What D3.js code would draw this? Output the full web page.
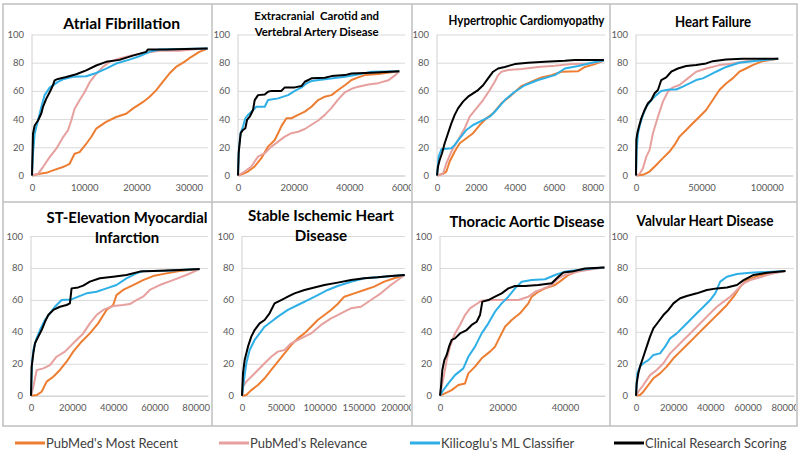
<!DOCTYPE html>
<html><head><meta charset="utf-8">
<script src="https://cdn.jsdelivr.net/npm/d3@7/dist/d3.min.js"></script>
<style>body{margin:0;background:#fff}svg{display:block}</style>
</head><body>
<svg id="c" width="800" height="456"></svg>
<script>
// ---------- DATA ----------
const seriesNames = ["PubMed's Most Recent","PubMed's Relevance","Kilicoglu's ML Classifier","Clinical Research Scoring"];
const seriesColors = ["#ED7D31","#E6A09E","#2EAFE6","#000000"];
const yTicks = [0,20,40,60,80,100];

const titles = [
  ["Atrial Fibrillation"],
  ["Extracranial  Carotid and","Vertebral Artery Disease"],
  ["Hypertrophic Cardiomyopathy"],
  ["Heart Failure"],
  ["ST-Elevation Myocardial","Infarction"],
  ["Stable Ischemic Heart","Disease"],
  ["Thoracic Aortic Disease"],
  ["Valvular Heart Disease"]
];
const xMaxes = [33700,60000,8640,120000,86000,210000,52800,85000];
const xTicks1 = [0,10000,20000,30000];
const xTicks2 = [0,20000,40000,60000];
const xTicks3 = [0,2000,4000,6000,8000];
const xTicks4 = [0,50000,100000];
const xTicks5 = [0,20000,40000,60000,80000];
const xTicks6 = [0,50000,100000,150000,200000];
const xTicks7 = [0,20000,40000];
const xTicks8 = [0,20000,40000,60000,80000];

// Atrial Fibrillation
const af_recent = [[0,0],[1470,1.2],[2740,1.9],[4010,3.6],[5920,6],[7200,8.3],[8150,15.4],[9110,16.6],[10380,22.5],[11340,27.3],[12290,33.2],[14200,38],[16120,41.5],[18030,43.8],[19300,47.4],[21210,52],[22480,55.7],[23760,60.4],[25030,66.4],[26310,72.3],[27580,77],[29170,80.6],[30450,84],[32040,87.7],[33630,90]];
const af_relevance = [[0,0],[1150,1.2],[2100,6],[3380,13],[4650,19],[5920,27],[6880,32],[7520,39],[8150,47.4],[9110,53.3],[10060,59],[11020,66],[12290,72],[13570,77],[14840,80.6],[16750,83],[19300,85.3],[21850,87],[24400,88.4],[28220,88.4],[30760,89.3],[33630,90]];
const af_ml = [[0,0],[190,15.4],[510,29.6],[1150,39],[1780,48.6],[2420,57],[3380,62.3],[4970,66.4],[5920,68.2],[7830,70],[10380,70.4],[12290,72.7],[14200,75.8],[16120,79.4],[18660,82.2],[20570,84.6],[22480,87.7],[24400,89.3],[28220,89.8],[33630,90]];
const af_crs = [[0,0],[190,29.6],[510,35.5],[1150,39],[1780,44],[2100,48.6],[2740,54.5],[3380,59],[4010,64],[4330,67.5],[4970,68.5],[6560,69.8],[8470,71.8],[10380,74.6],[12290,78],[14200,80.6],[16750,82],[19300,85],[21850,87.7],[22170,89.3],[25670,89.3],[29490,89.8],[33630,90]];

// Extracranial Carotid and Vertebral Artery Disease
const ec_recent = [[0,0],[1800,1.2],[3600,2.8],[6000,6.4],[8400,12.3],[10800,20.5],[13200,25.2],[14400,30],[15600,35],[17400,40.6],[19200,40.6],[21600,43],[24000,45.3],[26400,48.8],[28800,53.5],[31200,55.9],[33600,57],[36000,60.6],[38400,64],[40800,67.7],[43200,69.6],[45600,71.2],[50400,72],[57960,74]];
const ec_relevance = [[0,0],[2400,2.8],[4800,6.4],[7200,13.4],[9600,15.8],[12000,20.5],[14400,24],[16800,27.6],[19200,30],[21600,31],[24000,33],[26400,36],[28800,39],[31200,43],[33600,48],[36000,54],[38400,59],[40800,61.5],[43200,63],[46800,64.5],[50400,65.5],[54000,67.5],[56400,71],[57960,74]];
const ec_ml = [[0,0],[360,20.5],[960,30],[1800,34.7],[2640,40.6],[3600,43],[4800,45.3],[6600,48.8],[9600,48.8],[10800,53.5],[14400,54.7],[18000,57],[20400,60],[22800,62.5],[24600,65.3],[26400,67],[31200,68.2],[38400,70],[42000,71.2],[48000,73.6],[57960,74]];
const ec_crs = [[0,0],[240,15.8],[600,22.9],[960,30],[1800,32.3],[2640,33.5],[3240,39.4],[4200,41.7],[5400,46.5],[6000,53.5],[7200,57],[9600,57.5],[10800,59.4],[12000,60],[15600,60],[16800,62.5],[20400,62.5],[22800,63.4],[24000,66.5],[26400,68.9],[31200,69.3],[33600,70.5],[38400,71.2],[40800,72.4],[48000,72.9],[57960,74]];

// Hypertrophic Cardiomyopathy
const hc_recent = [[0,0],[309,1.2],[481,2.8],[652,9.9],[910,17],[1168,22.9],[1511,26.4],[1854,30],[2198,35.8],[2541,40.6],[2885,44.1],[3314,51.2],[3829,57],[4344,63.4],[4859,66.5],[5374,69.6],[5889,71.2],[6404,73.6],[7263,74],[7606,77],[8121,79],[8585,81.5]];
const hc_relevance = [[0,0],[309,1.2],[481,8.7],[738,17],[1082,25.2],[1425,33.5],[1683,41.7],[2026,47.6],[2370,53.5],[2713,60.6],[2970,66.5],[3142,71.2],[3314,73.6],[3657,74.8],[4344,75.5],[5203,77],[6061,77.8],[6920,79],[7950,79.5],[8585,81.5]];
const hc_ml = [[0,0],[86,13.4],[223,18.6],[738,19.3],[910,21.7],[1168,26.4],[1511,32.3],[1854,35.8],[2284,38.7],[2713,41.7],[3056,46.5],[3486,53.5],[4001,59.4],[4516,64],[5203,67.7],[6061,71.2],[6576,75.9],[7263,77.6],[7950,80],[8585,81.5]];
const hc_crs = [[0,0],[52,6.4],[137,11],[258,15.8],[395,22.9],[567,30],[738,37],[910,43],[1082,47.6],[1339,52.4],[1597,55.9],[1854,58.3],[2112,60.6],[2370,64],[2627,68.9],[2885,73.6],[3142,75.9],[3486,77],[4001,79],[4687,80],[5546,80.7],[6576,81.4],[7091,82],[8585,82]];

// Heart Failure
const hf_recent = [[0,0],[5334,0.5],[10414,2.8],[15494,7.5],[20574,12.3],[25654,17],[29464,21.7],[33274,27.6],[38354,32.3],[43434,37],[48514,41.7],[53594,46.5],[58674,53.5],[63754,60.6],[68834,65.3],[73914,68.9],[78994,73.6],[84074,75.9],[89154,78.3],[96774,81.1],[108712,82.8]];
const hf_relevance = [[0,0],[2794,1.2],[5334,5.2],[7874,13.4],[10414,18.2],[12954,30],[16764,41.7],[20574,52.4],[24384,59.4],[28194,62.5],[33274,64.2],[39624,68.9],[45974,73.6],[53594,75.9],[63754,78.3],[73914,79.5],[84074,81.1],[94234,81.8],[108712,82.8]];
const hf_ml = [[0,0],[508,18.2],[1524,30],[3302,37],[5334,42.9],[7874,48.8],[11684,53.5],[15494,57],[19304,59.9],[25654,61],[30734,61],[35814,63],[40894,65.3],[45974,67.7],[51054,68.9],[56134,71.2],[61214,73.6],[68834,77],[78994,80],[89154,81.1],[108712,82.8]];
const hf_crs = [[0,0],[254,25.2],[1016,30],[2286,34.7],[4064,40.6],[6604,46.5],[9144,51.2],[11684,53.5],[14224,58.3],[16764,60.6],[19304,67.7],[23114,69.6],[26924,73.6],[32004,75.9],[38354,77.6],[45974,78.3],[53594,79.5],[58674,81.1],[68834,82.3],[81534,82.8],[108712,82.8]];

// ST-Elevation Myocardial Infarction
const st_recent = [[0,0],[2747,0.4],[5171,2.5],[7595,8.8],[10827,11.9],[14059,16.1],[17291,21.3],[20523,27.6],[24563,33.8],[28603,39],[32643,45.3],[36683,53.7],[39915,56.8],[41531,63],[44763,66.2],[49611,69.3],[54459,72.4],[59307,74.9],[65771,76.6],[72235,78.1],[81931,79.3]];
const st_relevance = [[0,0],[1131,5.6],[2747,16],[5979,17.1],[9211,19.2],[12443,24.4],[16483,27.6],[20523,32.8],[25371,39],[28603,45.3],[31835,50.5],[35067,53.7],[39915,56.2],[44763,56.8],[47995,57.4],[51227,59.9],[54459,62],[57691,66.2],[62539,69.3],[69003,72.4],[75467,75.6],[81931,79.3]];
const st_ml = [[0,0],[485,20.3],[1131,28.6],[2424,34.9],[4363,41.1],[6787,47.4],[9211,51.6],[11635,55.7],[14867,59.9],[19715,60.3],[22947,62],[26987,64.1],[31835,65.1],[36683,67.2],[41531,69.3],[46379,73.5],[51227,76.6],[54459,78.1],[65771,78.3],[81931,79.3]];
const st_crs = [[0,0],[323,18.2],[1131,26.5],[1939,32.8],[3555,37],[5171,41.1],[6787,46.3],[8403,50.5],[10827,53.7],[14059,55.7],[17291,56.8],[18907,57.8],[19715,67.2],[22947,67.8],[25371,68.9],[28603,71.4],[33451,73.5],[39915,74.5],[46379,75.6],[52843,77.7],[62539,78.3],[72235,78.7],[81931,79.3]];

// Stable Ischemic Heart Disease
const si_recent = [[0,0],[5564,0.4],[11984,3.5],[20544,6.7],[29104,10.9],[37664,16.1],[46224,21.3],[54784,26.5],[63344,31.7],[71904,35.9],[80464,39],[89024,43.2],[97584,47.4],[106144,50.5],[114704,53.7],[123264,57.4],[131824,62],[144664,64.1],[157504,66.2],[170344,68.3],[183184,71.4],[196024,73.5],[209720,75.6]];
const si_relevance = [[0,0],[1284,5.6],[5564,8.8],[11984,11.9],[20544,16.1],[29104,20.3],[37664,24.4],[46224,27.6],[54784,28.6],[63344,32.8],[76184,35.9],[89024,39],[101864,44.3],[114704,48.4],[123264,50.5],[131824,52.6],[140384,54.7],[153224,55.7],[166064,59.9],[178904,64.1],[191744,69.3],[209720,75.6]];
const si_ml = [[0,0],[2568,9.8],[5564,20.3],[9844,28.6],[16264,34.9],[22684,39],[29104,43.2],[37664,46.3],[46224,49.5],[59064,53.7],[71904,56.8],[84744,59.9],[97584,63],[110424,66.2],[123264,68.7],[140384,71.4],[157504,73.5],[174624,74.1],[209720,75.6]];
const si_crs = [[0,0],[1284,14],[3424,22.3],[7704,30.7],[11984,37],[16264,41.1],[22684,45.3],[29104,47.4],[35524,51.6],[41944,57.8],[50504,59.9],[59064,62],[67624,64.1],[80464,66.2],[93304,67.8],[106144,69.3],[123264,70.8],[140384,72.4],[157504,73.5],[174624,74.1],[191744,74.9],[209720,75.6]];

// Thoracic Aortic Disease
const ta_recent = [[0,0],[1601,1.5],[3735,3.5],[5869,6.7],[8003,7.7],[9070,14],[11204,18.2],[13338,23.4],[16005,27.6],[17606,30.7],[19206,37],[20807,43.2],[22941,47.4],[25608,51.6],[28276,57.8],[29343,62],[31477,65.1],[33611,67.2],[36812,69.3],[38946,72.4],[41080,75.6],[44281,78.3],[48549,79.7],[52604,80.2]];
const ta_relevance = [[0,0],[534,5.6],[1387,14],[2134,22.3],[3201,30.7],[4802,39],[6402,44.3],[8003,50.5],[9603,54.7],[11204,56.8],[13338,59.5],[16539,59.9],[20807,59.9],[25075,59.9],[28276,62],[30410,65.1],[32544,66.6],[35745,69.3],[37879,73.5],[40013,75.6],[44281,77.7],[48549,79.1],[52604,80.2]];
const ta_ml = [[0,0],[1067,3.5],[2668,7.7],[4802,12.9],[7469,17.1],[9070,24.4],[11204,30.7],[13338,39],[15472,45.3],[17606,52.6],[19740,57.8],[21874,62],[24008,67.2],[26142,71.4],[29343,72.4],[33611,72.9],[36812,75.6],[40013,77.7],[44281,78.7],[48549,79.7],[52604,80.2]];
const ta_crs = [[0,0],[320,5.6],[747,16.1],[1387,22.3],[2134,25.5],[2881,30.7],[3735,34.9],[4802,35.9],[6402,39],[8536,41.1],[10137,44.3],[11737,46.3],[12804,50.5],[13551,58.9],[15472,59.9],[17606,62],[19740,64.1],[21874,67.2],[24008,68.7],[27209,68.7],[31477,69.3],[35745,70.4],[37879,74.5],[39479,77.2],[42147,77.7],[46415,79.7],[52604,80.2]];

// Valvular Heart Disease
const vh_recent = [[0,0],[2158,0.4],[3956,2.5],[6653,6.7],[9350,10.9],[12946,14],[16542,18.2],[20138,23.4],[23734,27.6],[27330,31.7],[30926,35.9],[34522,40.1],[38118,44.3],[41714,48.4],[45310,52.6],[48906,56.8],[52502,62],[56098,68.3],[59694,72.4],[65088,74.9],[72280,76.6],[80371,78.1]];
const vh_relevance = [[0,0],[1259,2.5],[3956,6.7],[7552,12.9],[11148,16.1],[14744,20.3],[18340,26.5],[21936,30.7],[25532,34.9],[29128,39],[32724,43.2],[36320,47.4],[39916,51.6],[43512,55.7],[47108,58.9],[50704,62],[54300,66.2],[57896,70.4],[61492,72.4],[66886,74.1],[72280,76.2],[80371,78.1]];
const vh_ml = [[0,0],[719,14],[2158,18.2],[3956,20.3],[6653,22.3],[9350,25.5],[12946,26.5],[15643,30.7],[18340,35.9],[21936,39],[25532,43.2],[29128,47.4],[32724,51.6],[36320,55.7],[39916,59.9],[42613,64.1],[45310,71.4],[48906,74.5],[54300,76.2],[61492,77],[80371,78.1]];
const vh_crs = [[0,0],[360,7.7],[1259,14],[2158,18.2],[3956,24.4],[5754,30.7],[7552,37],[9350,42.2],[12047,46.3],[14744,50.5],[17441,53.7],[20138,57.8],[23734,61],[27330,62.4],[32724,64.1],[38118,66.2],[43512,67.2],[48906,67.8],[54300,69.3],[57896,72.4],[63290,75.6],[70482,77],[80371,78.1]];

// ---------- LAYOUT ----------
const FONT = "Lato, 'Open Sans', sans-serif";
const cells = [[3,4,212,202],[212,4,412,202],[412,4,610,202],[610,4,797,202],
               [3,202,212,426],[212,202,412,426],[412,202,610,426],[610,202,797,426]];
// plot areas [left, right, top(100), bottom(0)]
const plotBoxes = [
  [32,208,34.5,175.5],[238,405,34.5,175.5],[437,605,34.5,175.5],[636,793,34.5,175.5],
  [31,208,236,395.7],[242,405,236,395.7],[440,605,236,395.7],[636,794,236,395.7]
];
// center x, first baseline, line step, font size, target width of first line
const titleLayout = [
  [121.7,28.5,0,16,117],[316.7,20,15.5,11.5,125],[526.5,25,0,12.5,156],[713,27.3,0,16,76],
  [127,223,20,16,161],[321,220.7,20,16,146],[527,227,0,16,155],[705,226,0,16,137]
];
const panels = [
  {s:[af_recent,af_relevance,af_ml,af_crs], t:xTicks1},
  {s:[ec_recent,ec_relevance,ec_ml,ec_crs], t:xTicks2},
  {s:[hc_recent,hc_relevance,hc_ml,hc_crs], t:xTicks3},
  {s:[hf_recent,hf_relevance,hf_ml,hf_crs], t:xTicks4},
  {s:[st_recent,st_relevance,st_ml,st_crs], t:xTicks5},
  {s:[si_recent,si_relevance,si_ml,si_crs], t:xTicks6},
  {s:[ta_recent,ta_relevance,ta_ml,ta_crs], t:xTicks7},
  {s:[vh_recent,vh_relevance,vh_ml,vh_crs], t:xTicks8}
];

const svg = d3.select("#c");
svg.append("rect").attr("width",800).attr("height",456).attr("fill","#fff");
const defs = svg.append("defs");

panels.forEach((p,i)=>{
  const [cx0,cy0,cx1,cy1] = cells[i];
  defs.append("clipPath").attr("id","clip"+i).append("rect")
    .attr("x",cx0+1).attr("y",cy0+1).attr("width",cx1-cx0-2).attr("height",cy1-cy0-2);
  const [l,r,t,b] = plotBoxes[i];
  const x = d3.scaleLinear().domain([0,xMaxes[i]]).range([l,r]);
  const y = d3.scaleLinear().domain([0,100]).range([b,t]);
  const g = svg.append("g").attr("clip-path",`url(#clip${i})`);
  const gy = g.append("g").attr("transform",`translate(${l},0)`)
    .call(d3.axisLeft(y).tickValues(yTicks).tickSize(-(r-l)).tickPadding(8));
  gy.select(".domain").remove();
  gy.selectAll(".tick line").attr("stroke","#D9D9D9").attr("stroke-width",1);
  gy.selectAll(".tick text").attr("fill","#595959").style("font-family",FONT).style("font-size","9.5px");
  g.append("line").attr("x1",l).attr("x2",l).attr("y1",t).attr("y2",b).attr("stroke","#D0D0D0");
  const gx = g.append("g").attr("transform",`translate(0,${b})`)
    .call(d3.axisBottom(x).tickValues(p.t).tickSize(0).tickPadding(9).tickFormat(d3.format("d")));
  gx.select(".domain").attr("stroke","#D0D0D0");
  gx.selectAll(".tick text").attr("fill","#595959").style("font-family",FONT).style("font-size","9.5px");
  const line = d3.line().x(d=>x(d[0])).y(d=>y(d[1]));
  p.s.forEach((data,k)=>{
    g.append("path").datum(data).attr("d",line).attr("fill","none")
      .attr("stroke",seriesColors[k]).attr("stroke-width",2).attr("stroke-linejoin","round");
  });
  // title: given font size, horizontally condensed to the reference width
  const [tx,by,step,fs,tw] = titleLayout[i];
  const probe = g.append("text").style("font-family",FONT).style("font-weight","bold")
    .style("font-size",fs+"px").style("white-space","pre").text(titles[i][0]);
  const sx = Math.min(1, tw/probe.node().getComputedTextLength());
  probe.remove();
  titles[i].forEach((txt,j)=>{
    g.append("text").attr("transform",`translate(${tx},${by+j*step}) scale(${sx.toFixed(3)},1)`)
      .attr("text-anchor","middle")
      .style("font-family",FONT).style("font-weight","bold").style("font-size",fs+"px")
      .attr("fill","#000").style("white-space","pre").text(txt);
  });
});

// panel frames
const frameG = svg.append("g").attr("fill","none").attr("stroke","#BFBFBF").attr("stroke-width",1.5);
frameG.append("rect").attr("x",3).attr("y",4).attr("width",794).attr("height",422);
[212,412,610].forEach(x=>frameG.append("line").attr("x1",x).attr("x2",x).attr("y1",4).attr("y2",426));
frameG.append("line").attr("x1",3).attr("x2",797).attr("y1",202).attr("y2",202);

// legend
const legendX = [15,219,410,614];
const lg = svg.append("g");
seriesNames.forEach((name,k)=>{
  lg.append("line").attr("x1",legendX[k]).attr("x2",legendX[k]+30).attr("y1",443).attr("y2",443)
    .attr("stroke",seriesColors[k]).attr("stroke-width",3);
  lg.append("text").attr("x",legendX[k]+31).attr("y",443).attr("dy","0.35em")
    .style("font-family",FONT).style("font-size","13px").attr("fill","#404040").text(name);
});
</script>
</body></html>
